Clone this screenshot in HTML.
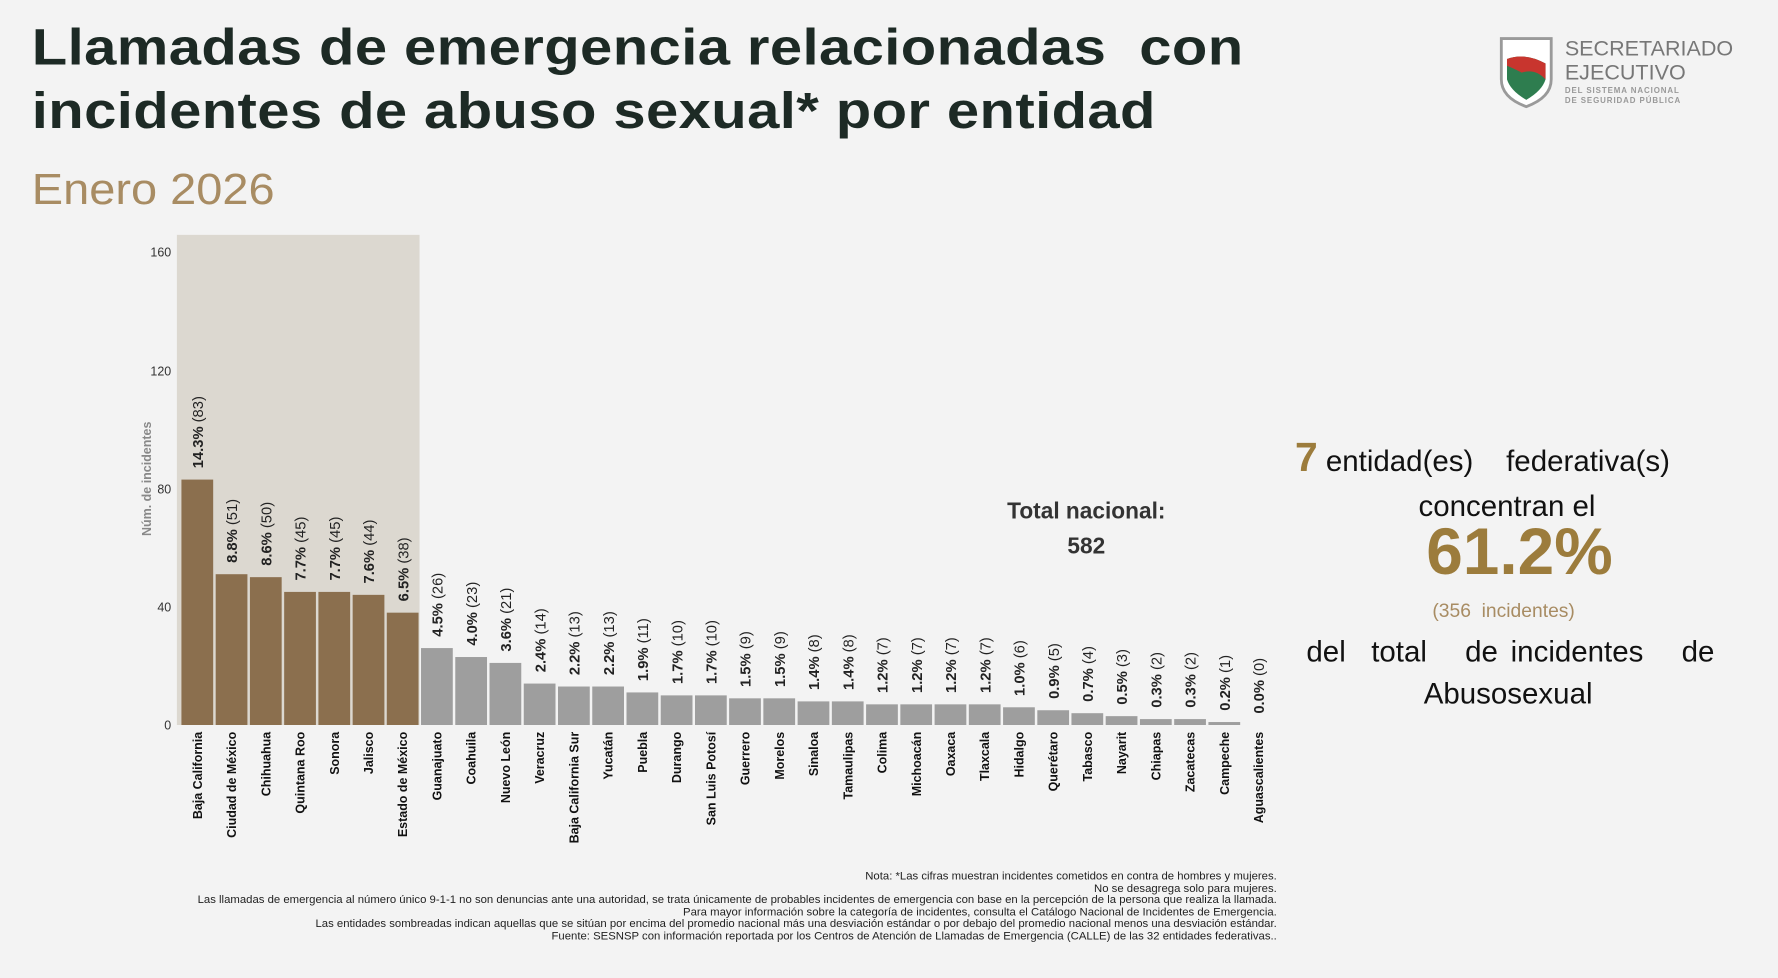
<!DOCTYPE html>
<html><head><meta charset="utf-8"><style>
html,body{margin:0;padding:0;width:1778px;height:978px;overflow:hidden;background:#f3f3f3;}
#w{position:absolute;left:0;top:0;width:1568px;height:862px;transform:scale(1.13393,1.13457);transform-origin:0 0;font-family:"Liberation Sans",sans-serif;}
.t{position:absolute;left:28px;font-weight:bold;color:#1d2a25;font-size:45px;letter-spacing:0.3px;line-height:52px;transform:scaleX(1.137);transform-origin:0 0;white-space:nowrap;}
.ab{position:absolute;white-space:nowrap;}
svg text{font-family:"Liberation Sans",sans-serif;}
.b{fill:#8b6f4e}.g{fill:#9e9e9e}
.v{font-size:13px;fill:#222}
.x{font-size:11px;font-weight:bold;fill:#111}
.n{position:absolute;right:442px;top:768px;text-align:right;font-size:10px;line-height:10.6px;color:#222;white-space:nowrap;}
.r{position:absolute;text-align:center;color:#111;font-size:25px;white-space:nowrap;}
</style></head><body><div id="w">
<div class="t" style="top:16px">Llamadas de emergencia relacionadas&nbsp; con</div>
<div class="t" style="top:72px">incidentes de abuso sexual* por entidad</div>
<div class="ab" style="left:28px;top:147px;font-size:38px;color:#a88c63;transform:scaleX(1.09);transform-origin:0 0">Enero 2026</div>

<svg class="ab" style="left:1320px;top:30px" width="240" height="66">
<path d="M4 4 H48 V40 Q48 56 26 64 Q4 56 4 40 Z" fill="#fff" stroke="#9a9a9a" stroke-width="2.5"/>
<path d="M9 22 Q25 16 43 26 L43 40 Q40 50 26 58 Q12 50 9 40 Z" fill="#2e7d4f"/>
<path d="M9 22 Q25 16 43 26 L43 40 Q34 30 22 34 Q14 30 9 28 Z" fill="#c8352e"/>
<text x="60" y="19" font-family="Liberation Serif" font-size="19" fill="#777">SECRETARIADO</text>
<text x="60" y="40" font-family="Liberation Serif" font-size="19" fill="#777">EJECUTIVO</text>
<text x="60" y="52" font-size="7" font-weight="bold" fill="#999" letter-spacing="0.8">DEL SISTEMA NACIONAL</text>
<text x="60" y="61" font-size="7" font-weight="bold" fill="#999" letter-spacing="0.8">DE SEGURIDAD PÚBLICA</text>
</svg>

<svg class="ab" style="left:0;top:0" width="1568" height="862">
<rect x="156" y="207" width="214" height="432" fill="#dcd8d0"/>
<g font-size="11" fill="#333" text-anchor="end">
<text x="151" y="226">160</text><text x="151" y="331">120</text><text x="151" y="435">80</text><text x="151" y="539">40</text><text x="151" y="643">0</text>
</g>
<text transform="translate(133,422) rotate(-90)" text-anchor="middle" font-size="11" font-weight="bold" fill="#888">Núm. de incidentes</text>

<g transform="translate(174,422.7)"><rect x="-14" width="28" height="216.3" class="b"/><text class="v" transform="translate(5,-10) rotate(-90)"><tspan font-weight="bold">14.3%</tspan> (83)</text></g>
<g transform="translate(204.2,506.1)"><rect x="-14" width="28" height="132.9" class="b"/><text class="v" transform="translate(5,-10) rotate(-90)"><tspan font-weight="bold">8.8%</tspan> (51)</text></g>
<g transform="translate(234.4,508.7)"><rect x="-14" width="28" height="130.3" class="b"/><text class="v" transform="translate(5,-10) rotate(-90)"><tspan font-weight="bold">8.6%</tspan> (50)</text></g>
<g transform="translate(264.6,521.7)"><rect x="-14" width="28" height="117.3" class="b"/><text class="v" transform="translate(5,-10) rotate(-90)"><tspan font-weight="bold">7.7%</tspan> (45)</text></g>
<g transform="translate(294.8,521.7)"><rect x="-14" width="28" height="117.3" class="b"/><text class="v" transform="translate(5,-10) rotate(-90)"><tspan font-weight="bold">7.7%</tspan> (45)</text></g>
<g transform="translate(325,524.3)"><rect x="-14" width="28" height="114.7" class="b"/><text class="v" transform="translate(5,-10) rotate(-90)"><tspan font-weight="bold">7.6%</tspan> (44)</text></g>
<g transform="translate(355.1,540)"><rect x="-14" width="28" height="99" class="b"/><text class="v" transform="translate(5,-10) rotate(-90)"><tspan font-weight="bold">6.5%</tspan> (38)</text></g>
<g transform="translate(385.3,571.2)"><rect x="-14" width="28" height="67.8" class="g"/><text class="v" transform="translate(5,-10) rotate(-90)"><tspan font-weight="bold">4.5%</tspan> (26)</text></g>
<g transform="translate(415.5,579.1)"><rect x="-14" width="28" height="59.9" class="g"/><text class="v" transform="translate(5,-10) rotate(-90)"><tspan font-weight="bold">4.0%</tspan> (23)</text></g>
<g transform="translate(445.7,584.3)"><rect x="-14" width="28" height="54.7" class="g"/><text class="v" transform="translate(5,-10) rotate(-90)"><tspan font-weight="bold">3.6%</tspan> (21)</text></g>
<g transform="translate(475.9,602.5)"><rect x="-14" width="28" height="36.5" class="g"/><text class="v" transform="translate(5,-10) rotate(-90)"><tspan font-weight="bold">2.4%</tspan> (14)</text></g>
<g transform="translate(506.1,605.1)"><rect x="-14" width="28" height="33.9" class="g"/><text class="v" transform="translate(5,-10) rotate(-90)"><tspan font-weight="bold">2.2%</tspan> (13)</text></g>
<g transform="translate(536.3,605.1)"><rect x="-14" width="28" height="33.9" class="g"/><text class="v" transform="translate(5,-10) rotate(-90)"><tspan font-weight="bold">2.2%</tspan> (13)</text></g>
<g transform="translate(566.5,610.3)"><rect x="-14" width="28" height="28.7" class="g"/><text class="v" transform="translate(5,-10) rotate(-90)"><tspan font-weight="bold">1.9%</tspan> (11)</text></g>
<g transform="translate(596.7,612.9)"><rect x="-14" width="28" height="26.1" class="g"/><text class="v" transform="translate(5,-10) rotate(-90)"><tspan font-weight="bold">1.7%</tspan> (10)</text></g>
<g transform="translate(626.9,612.9)"><rect x="-14" width="28" height="26.1" class="g"/><text class="v" transform="translate(5,-10) rotate(-90)"><tspan font-weight="bold">1.7%</tspan> (10)</text></g>
<g transform="translate(657,615.5)"><rect x="-14" width="28" height="23.5" class="g"/><text class="v" transform="translate(5,-10) rotate(-90)"><tspan font-weight="bold">1.5%</tspan> (9)</text></g>
<g transform="translate(687.2,615.5)"><rect x="-14" width="28" height="23.5" class="g"/><text class="v" transform="translate(5,-10) rotate(-90)"><tspan font-weight="bold">1.5%</tspan> (9)</text></g>
<g transform="translate(717.4,618.2)"><rect x="-14" width="28" height="20.8" class="g"/><text class="v" transform="translate(5,-10) rotate(-90)"><tspan font-weight="bold">1.4%</tspan> (8)</text></g>
<g transform="translate(747.6,618.2)"><rect x="-14" width="28" height="20.8" class="g"/><text class="v" transform="translate(5,-10) rotate(-90)"><tspan font-weight="bold">1.4%</tspan> (8)</text></g>
<g transform="translate(777.8,620.8)"><rect x="-14" width="28" height="18.2" class="g"/><text class="v" transform="translate(5,-10) rotate(-90)"><tspan font-weight="bold">1.2%</tspan> (7)</text></g>
<g transform="translate(808,620.8)"><rect x="-14" width="28" height="18.2" class="g"/><text class="v" transform="translate(5,-10) rotate(-90)"><tspan font-weight="bold">1.2%</tspan> (7)</text></g>
<g transform="translate(838.2,620.8)"><rect x="-14" width="28" height="18.2" class="g"/><text class="v" transform="translate(5,-10) rotate(-90)"><tspan font-weight="bold">1.2%</tspan> (7)</text></g>
<g transform="translate(868.4,620.8)"><rect x="-14" width="28" height="18.2" class="g"/><text class="v" transform="translate(5,-10) rotate(-90)"><tspan font-weight="bold">1.2%</tspan> (7)</text></g>
<g transform="translate(898.6,623.4)"><rect x="-14" width="28" height="15.6" class="g"/><text class="v" transform="translate(5,-10) rotate(-90)"><tspan font-weight="bold">1.0%</tspan> (6)</text></g>
<g transform="translate(928.8,626)"><rect x="-14" width="28" height="13" class="g"/><text class="v" transform="translate(5,-10) rotate(-90)"><tspan font-weight="bold">0.9%</tspan> (5)</text></g>
<g transform="translate(958.9,628.6)"><rect x="-14" width="28" height="10.4" class="g"/><text class="v" transform="translate(5,-10) rotate(-90)"><tspan font-weight="bold">0.7%</tspan> (4)</text></g>
<g transform="translate(989.1,631.2)"><rect x="-14" width="28" height="7.8" class="g"/><text class="v" transform="translate(5,-10) rotate(-90)"><tspan font-weight="bold">0.5%</tspan> (3)</text></g>
<g transform="translate(1019.3,633.8)"><rect x="-14" width="28" height="5.2" class="g"/><text class="v" transform="translate(5,-10) rotate(-90)"><tspan font-weight="bold">0.3%</tspan> (2)</text></g>
<g transform="translate(1049.5,633.8)"><rect x="-14" width="28" height="5.2" class="g"/><text class="v" transform="translate(5,-10) rotate(-90)"><tspan font-weight="bold">0.3%</tspan> (2)</text></g>
<g transform="translate(1079.7,636.4)"><rect x="-14" width="28" height="2.6" class="g"/><text class="v" transform="translate(5,-10) rotate(-90)"><tspan font-weight="bold">0.2%</tspan> (1)</text></g>
<g transform="translate(1109.9,639)"><text class="v" transform="translate(5,-10) rotate(-90)"><tspan font-weight="bold">0.0%</tspan> (0)</text></g>

<g class="x" text-anchor="end">
<text transform="translate(178,645) rotate(-90)">Baja California</text>
<text transform="translate(208.2,645) rotate(-90)">Ciudad de México</text>
<text transform="translate(238.4,645) rotate(-90)">Chihuahua</text>
<text transform="translate(268.6,645) rotate(-90)">Quintana Roo</text>
<text transform="translate(298.8,645) rotate(-90)">Sonora</text>
<text transform="translate(329,645) rotate(-90)">Jalisco</text>
<text transform="translate(359.1,645) rotate(-90)">Estado de México</text>
<text transform="translate(389.3,645) rotate(-90)">Guanajuato</text>
<text transform="translate(419.5,645) rotate(-90)">Coahuila</text>
<text transform="translate(449.7,645) rotate(-90)">Nuevo León</text>
<text transform="translate(479.9,645) rotate(-90)">Veracruz</text>
<text transform="translate(510.1,645) rotate(-90)">Baja California Sur</text>
<text transform="translate(540.3,645) rotate(-90)">Yucatán</text>
<text transform="translate(570.5,645) rotate(-90)">Puebla</text>
<text transform="translate(600.7,645) rotate(-90)">Durango</text>
<text transform="translate(630.9,645) rotate(-90)">San Luis Potosí</text>
<text transform="translate(661,645) rotate(-90)">Guerrero</text>
<text transform="translate(691.2,645) rotate(-90)">Morelos</text>
<text transform="translate(721.4,645) rotate(-90)">Sinaloa</text>
<text transform="translate(751.6,645) rotate(-90)">Tamaulipas</text>
<text transform="translate(781.8,645) rotate(-90)">Colima</text>
<text transform="translate(812,645) rotate(-90)">Michoacán</text>
<text transform="translate(842.2,645) rotate(-90)">Oaxaca</text>
<text transform="translate(872.4,645) rotate(-90)">Tlaxcala</text>
<text transform="translate(902.6,645) rotate(-90)">Hidalgo</text>
<text transform="translate(932.8,645) rotate(-90)">Querétaro</text>
<text transform="translate(962.9,645) rotate(-90)">Tabasco</text>
<text transform="translate(993.1,645) rotate(-90)">Nayarit</text>
<text transform="translate(1023.3,645) rotate(-90)">Chiapas</text>
<text transform="translate(1053.5,645) rotate(-90)">Zacatecas</text>
<text transform="translate(1083.7,645) rotate(-90)">Campeche</text>
<text transform="translate(1113.9,645) rotate(-90)">Aguascalientes</text>
</g>
<text x="958" y="457" text-anchor="middle" font-size="20" font-weight="bold" fill="#333">Total nacional:</text>
<text x="958" y="488" text-anchor="middle" font-size="20" font-weight="bold" fill="#333">582</text>
</svg>

<div class="r" style="left:1142px;top:382px;width:370px;text-align:left;font-size:26px"><span style="color:#9c7c3c;font-weight:bold;font-size:36px">7</span>&nbsp;entidad(es)&nbsp;&nbsp;&nbsp; federativa(s)</div>
<div class="r" style="left:1129px;top:431px;width:400px;font-size:26px">concentran el</div>
<div class="r" style="left:1140px;top:453px;width:400px;color:#9c7c3c;font-weight:bold;font-size:58px">61.2%</div>
<div class="r" style="left:1126px;top:529px;width:400px;color:#a88c63;font-size:17px">(356&nbsp; incidentes)</div>
<div class="r" style="left:1132px;top:559px;width:400px;font-size:26px;word-spacing:4px">del&nbsp; total&nbsp;&nbsp; de incidentes&nbsp;&nbsp; de</div>
<div class="r" style="left:1130px;top:596px;width:400px;font-size:26px">Abusosexual</div>

<div class="n">Nota: *Las cifras muestran incidentes cometidos en contra de hombres y mujeres.<br>No se desagrega solo para mujeres.<br>Las llamadas de emergencia al número único 9-1-1 no son denuncias ante una autoridad, se trata únicamente de probables incidentes de emergencia con base en la percepción de la persona que realiza la llamada.<br>Para mayor información sobre la categoría de incidentes, consulta el Catálogo Nacional de Incidentes de Emergencia.<br>Las entidades sombreadas indican aquellas que se sitúan por encima del promedio nacional más una desviación estándar o por debajo del promedio nacional menos una desviación estándar.<br>Fuente: SESNSP con información reportada por los Centros de Atención de Llamadas de Emergencia (CALLE) de las 32 entidades federativas..</div>
</div></body></html>
